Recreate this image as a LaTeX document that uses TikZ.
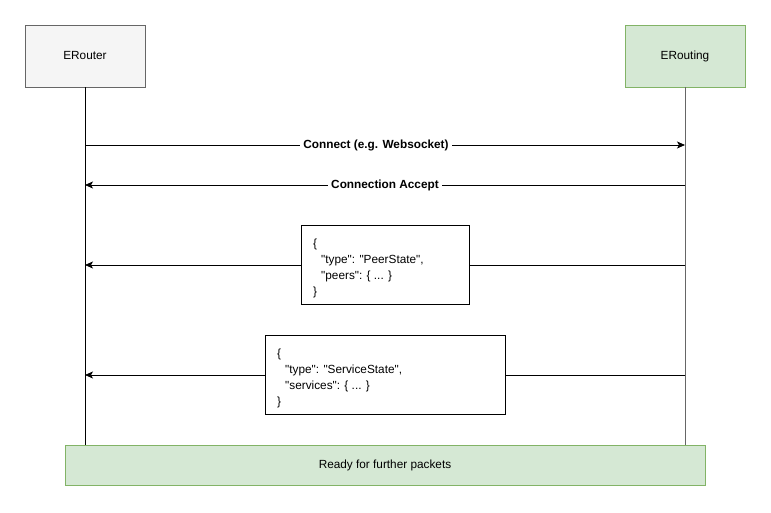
\documentclass[tikz,border=0pt]{standalone}
\usepackage{fontspec}
\setmainfont{Liberation Sans}
\usetikzlibrary{arrows.meta}
\definecolor{greyfill}{HTML}{F5F5F5}
\definecolor{greyline}{HTML}{666666}
\definecolor{greenfill}{HTML}{D5E8D4}
\definecolor{greenline}{HTML}{82B366}
\newcommand{\qt}{\textquotedbl}
\begin{document}
\begin{tikzpicture}[x=1pt,y=-1pt,
  every node/.style={font=\fontsize{11.8}{16}\selectfont},
  actor/.style={draw, minimum width=120pt, minimum height=62pt, inner sep=0pt, line width=0.8pt},
  lifeline/.style={line width=0.8pt},
  msg/.style={line width=0.8pt, -{Stealth[length=8pt,width=7pt,inset=2pt]}},
  msglabel/.style={fill=white, inner sep=3pt, font=\bfseries\fontsize{11.8}{16}\selectfont},
  payload/.style={draw, fill=white, line width=0.8pt, inner sep=0pt, align=left, anchor=north west}]
  \useasboundingbox (0,0) rectangle (771,513);
  % participants
  \node[actor, fill=greyfill, draw=greyline] (router) at (85,56) {ERouter};
  \node[actor, fill=greenfill, draw=greenline] (routing) at (685,56) {ERouting};
  % closing banner
  \node[draw=greenline, fill=greenfill, line width=0.8pt, minimum width=640pt, minimum height=40pt, inner sep=0pt] (ready) at (385,465) {Ready for further packets};
  % lifelines
  \coordinate (rEnd) at (85,445);
  \coordinate (gEnd) at (685,445);
  \draw[lifeline] (router.south) -- (rEnd);
  \draw[lifeline, greyline] (routing.south) -- (gEnd);
  % message anchors on the lifelines
  \coordinate (r1) at (85,145);  \coordinate (g1) at (685,145);
  \coordinate (r2) at (85,185);  \coordinate (g2) at (685,185);
  \coordinate (r3) at (85,265);  \coordinate (g3) at (685,265);
  \coordinate (r4) at (85,375);  \coordinate (g4) at (685,375);
  % handshake
  \draw[msg] (r1) -- (g1) node[msglabel, pos=0.485] (lab1) {Connect (e.g. Websocket)};
  \draw[msg] (g2) -- (r2) node[msglabel, midway] (lab2) {Connection Accept};
  % state messages
  \draw[msg] (g3) -- (r3);
  \node[payload, minimum width=168pt, minimum height=79pt] (peer) at (301,225) {};
  \node[anchor=north west, align=left, inner sep=0pt] (peertxt) at (313,239)
    {\{\\\hspace*{8pt}\qt type\qt: \qt PeerState\qt,\\\hspace*{8pt}\qt peers\qt: \{ ... \}\\\}};
  \draw[msg] (g4) -- (r4);
  \node[payload, minimum width=240pt, minimum height=79pt] (service) at (265,335) {};
  \node[anchor=north west, align=left, inner sep=0pt] (servicetxt) at (277,349)
    {\{\\\hspace*{8pt}\qt type\qt: \qt ServiceState\qt,\\\hspace*{8pt}\qt services\qt: \{ ... \}\\\}};
\end{tikzpicture}
\end{document}
